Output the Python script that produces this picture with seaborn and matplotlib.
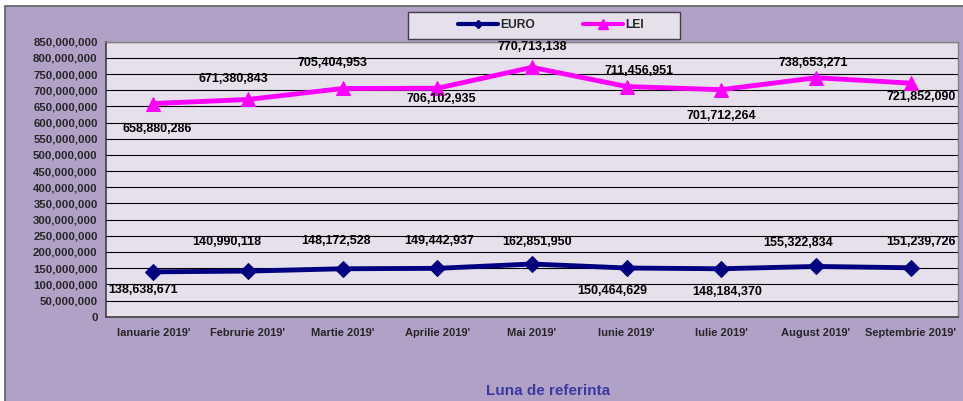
import pandas as pd
import numpy as np
import matplotlib.pyplot as plt
import seaborn as sns
from matplotlib.patches import Rectangle
from matplotlib.lines import Line2D
from matplotlib.ticker import FuncFormatter, MultipleLocator

# Date
luni = ["Ianuarie 2019'", "Februrie 2019'", "Martie 2019'", "Aprilie 2019'", "Mai 2019'",
        "Iunie 2019'", "Iulie 2019'", "August 2019'", "Septembrie 2019'"]
valori_euro = [138638671, 140990118, 148172528, 149442937, 162851950,
               150464629, 148184370, 155322834, 151239726]
valori_lei = [658880286, 671380843, 705404953, 706102935, 770713138,
              711456951, 701712264, 738653271, 721852090]

# Decalaje etichete (pixeli) - pozitionare ca in Excel
dec_euro = [(-10, -18), (-21, 29), (-7, 28), (2, 27), (5, 22), (-14, -23), (6, -23), (-18, 23), (10, 26)]
dec_lei = [(4, -25), (-15, 20), (-10, 25), (4, -11), (0, 20), (12, 16), (0, -26), (-3, 15), (11, -14)]

sns.set_style("white")
plt.rcParams['font.family'] = ['Liberation Sans', 'DejaVu Sans']
plt.rcParams['font.weight'] = 'bold'

culoare_fundal = '#B1A1C7'
culoare_plot = '#E6E0EC'
culoare_euro = '#000080'
culoare_lei = '#FF00FF'

dpi = 100
fig = plt.figure(figsize=(9.63, 4.01), dpi=dpi, facecolor='white')
fundal = Rectangle((5 / 963, -0.01), 1.0, 1 - 6 / 401 + 0.01, transform=fig.transFigure,
                   facecolor=culoare_fundal, edgecolor='#606060', linewidth=1.2, zorder=-10)
fig.patches.append(fundal)

ax = fig.add_axes([106 / 963, 1 - 316.7 / 401, (958 - 106) / 963, (316.7 - 41.7) / 401])
ax.set_facecolor(culoare_plot)

df = pd.DataFrame({'luna': np.arange(len(luni)), 'EURO': valori_euro, 'LEI': valori_lei})

sns.lineplot(data=df, x='luna', y='EURO', ax=ax, color=culoare_euro, linewidth=3.5,
             marker='D', markersize=8.5, markeredgecolor=culoare_euro, zorder=4)
sns.lineplot(data=df, x='luna', y='LEI', ax=ax, color=culoare_lei, linewidth=3.5,
             marker='^', markersize=10.5, markeredgecolor=culoare_lei, zorder=4)

# Etichete de date
for i in range(len(luni)):
    ax.annotate(f"{valori_euro[i]:,}", (i, valori_euro[i]), xytext=dec_euro[i],
                textcoords='offset pixels', ha='center', va='center', fontsize=9,
                fontweight='bold', color='black', zorder=5)
    ax.annotate(f"{valori_lei[i]:,}", (i, valori_lei[i]), xytext=dec_lei[i],
                textcoords='offset pixels', ha='center', va='center', fontsize=9,
                fontweight='bold', color='black', zorder=5)

ax.set_xlim(-0.5, len(luni) - 0.5)
ax.set_ylim(0, 850000000)
ax.yaxis.set_major_locator(MultipleLocator(50000000))
ax.yaxis.set_major_formatter(FuncFormatter(lambda v, p: f"{int(v):,}"))
ax.grid(axis='y', color='black', linewidth=0.8, zorder=1)
ax.set_axisbelow(True)

ax.set_xticks(np.arange(len(luni)))
ax.set_xticklabels(luni, fontsize=8, fontweight='bold')
ax.set_xticks(np.arange(len(luni) + 1) - 0.5, minor=True)
ax.tick_params(axis='x', which='major', length=0, pad=8)
ax.tick_params(axis='x', which='minor', length=4, width=1, color='#404040', direction='out')
ax.tick_params(axis='y', length=4, width=1, color='#404040', direction='out', labelsize=8.2, pad=2)
for lbl in ax.get_yticklabels():
    lbl.set_fontweight('bold')

ax.set_xlabel('')
ax.set_ylabel('')
for s in ['left', 'bottom']:
    ax.spines[s].set_color('#404040')
    ax.spines[s].set_linewidth(1.2)
for s in ['top', 'right']:
    ax.spines[s].set_color('#808080')
    ax.spines[s].set_linewidth(1.0)

fig.text(548 / 963, 1 - 391 / 401, 'Luna de referinta', ha='center', va='center',
         fontsize=11, fontweight='bold', color='#3A3A9E')

# Legenda: cadru desenat separat
cadru = Rectangle((408 / 963, 1 - 39 / 401), (680 - 408) / 963, 27 / 401, transform=fig.transFigure,
                  facecolor=culoare_plot, edgecolor='#404040', linewidth=1.0, zorder=5)
fig.patches.append(cadru)
handles = [Line2D([], [], color=culoare_euro, linewidth=3, marker='D', markersize=4),
           Line2D([], [], color=culoare_lei, linewidth=3, marker='^', markersize=7)]
leg = fig.legend(handles, ['EURO', 'LEI'], ncol=2, loc='center', bbox_to_anchor=(551 / 963, 1 - 25.5 / 401),
                 frameon=False, handlelength=3.3, handletextpad=0.15, columnspacing=4.0,
                 prop={'weight': 'bold', 'size': 8.7})
leg.set_zorder(6)

fig.savefig('out.png', dpi=dpi, facecolor=fig.get_facecolor())
